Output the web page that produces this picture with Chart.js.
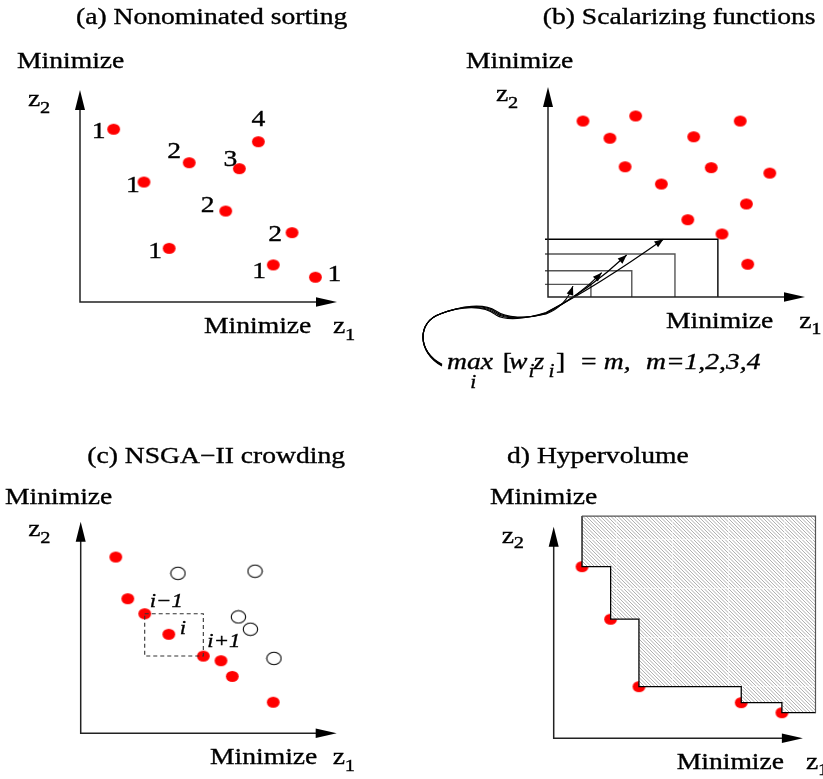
<!DOCTYPE html>
<html>
<head>
<meta charset="utf-8">
<title>Multi-objective ranking schemes</title>
<script src="https://cdn.jsdelivr.net/npm/chart.js@4.4.1/dist/chart.umd.min.js"></script>
<style>
  html, body { margin: 0; padding: 0; background: #fff; overflow: hidden; }
  #wrap { position: relative; width: 823px; height: 779px; }
  #wrap canvas { position: absolute; left: 0; top: 0; }
</style>
</head>
<body>
<div id="wrap">
  <canvas id="pa" width="823" height="779"></canvas>
  <canvas id="pb" width="823" height="779"></canvas>
  <canvas id="pc" width="823" height="779"></canvas>
  <canvas id="pd" width="823" height="779"></canvas>
</div>
<script>
// ---- data (axis units 0..10, origin at the arrow corner) ----
// (a) nondominated sorting
const aZ1 = [1.31, 4.25, 6.20, 6.94, 2.49, 5.67, 3.47, 8.25, 7.52, 9.16];
const aZ2 = [8.15, 6.57, 6.29, 7.56, 5.66, 4.29, 2.53, 3.27, 1.75, 1.17];
const aRank = [1, 2, 3, 4, 1, 2, 1, 2, 1, 1];

// (b) scalarizing functions
const bZ1 = [1.36, 3.41, 7.48, 2.41, 5.67, 3.00, 6.35, 8.63, 4.41, 7.72, 5.44, 6.77, 7.77];
const bZ2 = [8.38, 8.62, 8.38, 7.56, 7.63, 6.20, 6.16, 5.90, 5.38, 4.43, 3.68, 3.00, 1.56];
const bLevel = [1, 2, 3, 4];
const bLevelZ1 = [1.67, 3.26, 4.94, 6.61];
const bLevelZ2 = [0.60, 1.25, 2.05, 2.75];
const bArrowZ1 = [0.97, 2.09, 3.06, 4.49];
const bArrowZ2 = [0.52, 1.16, 2.00, 2.75];

// (c) NSGA-II crowding
const cFrontZ1 = [1.37, 1.84, 2.50, 3.44, 4.79, 5.48, 5.92, 7.52];
const cFrontZ2 = [8.33, 6.36, 5.65, 4.68, 3.65, 3.43, 2.69, 1.47];
const cOtherZ1 = [3.80, 6.81, 6.16, 6.63, 7.55];
const cOtherZ2 = [7.56, 7.66, 5.50, 4.92, 3.54];
const cCrowded = 3; // index of point i in the front

// (d) hypervolume
const dZ1 = [1.08, 2.17, 3.25, 7.15, 8.70];
const dZ2 = [7.71, 5.35, 2.32, 1.60, 1.15];
const dRef = [10, 10];

const titles = ['(a) Nonominated sorting', '(b) Scalarizing functions', '(c) NSGA\u2212II crowding', 'd) Hypervolume'];

// ---- drawing helpers ----
const W = 823, H = 779;
const SX = 1.2; // the original figure is stretched sideways
const FONT = '"Liberation Serif", "Times New Roman", serif';

function txt(ctx, s, x, y, o = {}) {
  ctx.save();
  ctx.translate(x, y);
  ctx.scale(SX, 1);
  ctx.font = (o.italic ? 'italic ' : '') + (o.size || 23) + 'px ' + FONT;
  ctx.fillStyle = '#000';
  ctx.strokeStyle = '#000';
  ctx.lineWidth = 0.35;
  ctx.textAlign = o.align || 'left';
  ctx.textBaseline = o.baseline || 'alphabetic';
  ctx.fillText(s, 0, 0);
  ctx.strokeText(s, 0, 0);
  ctx.restore();
}

function zLabel(ctx, x, y, sub, dy) {
  txt(ctx, 'z', x, y);
  txt(ctx, sub, x + 12, y + dy, { size: 17 });
}

function arrowHead(ctx, tx, ty, fx, fy, len, half) {
  const a = Math.atan2(ty - fy, tx - fx);
  ctx.save();
  ctx.translate(tx, ty);
  ctx.rotate(a);
  ctx.beginPath();
  ctx.moveTo(0, 0);
  ctx.lineTo(-len, -half);
  ctx.lineTo(-len, half);
  ctx.closePath();
  ctx.fillStyle = '#000';
  ctx.fill();
  ctx.restore();
}

function dotImage(rx, ry, fill, stroke) {
  const c = document.createElement('canvas');
  c.width = Math.ceil(rx * 2 + 2);
  c.height = Math.ceil(ry * 2 + 2);
  const g = c.getContext('2d');
  g.beginPath();
  g.ellipse(c.width / 2, c.height / 2, rx, ry, 0, 0, Math.PI * 2);
  g.fillStyle = fill;
  g.fill();
  if (stroke) { g.strokeStyle = stroke; g.lineWidth = 1.1; g.stroke(); }
  return c;
}
const redDot = dotImage(6.4, 5.5, '#ff0000');
const openDot = dotImage(7.2, 6.2, '#ffffff', '#000000');

function hatch(ctx) {
  const c = document.createElement('canvas');
  c.width = 56; c.height = 49;
  const g = c.getContext('2d');
  g.fillStyle = '#fff';
  g.fillRect(0, 0, 56, 49);
  g.strokeStyle = '#9a9a9a';
  g.lineWidth = 0.8;
  for (let k = -56; k < 60; k += 3.5) {
    g.beginPath(); g.moveTo(k, 0); g.lineTo(k + 49, 49); g.stroke();
  }
  g.strokeStyle = 'rgba(255,255,255,0.6)';
  g.lineWidth = 1;
  g.beginPath(); g.moveTo(0.5, 0); g.lineTo(0.5, 49); g.moveTo(0, 0.5); g.lineTo(56, 0.5); g.stroke();
  return ctx.createPattern(c, 'repeat');
}

function pts(xs, ys) { return xs.map((x, i) => ({ x, y: ys[i] })); }

// ---- panel layout ----
const panels = [
  { id: 'pa', area: [80, 90, 337, 302], tip: 10,
    title: [76, 23.5], minY: [17, 68.3], z2: [28, 106, 6.7], minX: [204, 333.3], z1: [333, 333.3, 6.7] },
  { id: 'pb', area: [548, 87, 805, 297], tip: 10,
    title: [542.7, 23.5], minY: [466, 68.3], z2: [496, 101, 7], minX: [666, 328.3], z1: [799.3, 328.3, 6] },
  { id: 'pc', area: [80.7, 521.7, 336.7, 733.3], tip: 10,
    title: [87.3, 463.3], minY: [5, 504], z2: [28.3, 536, 7.3], minX: [210, 764.3], z1: [332.7, 764.3, 6.4] },
  { id: 'pd', area: [553.7, 515.7, 822.7, 738.3], tip: 9.5,
    title: [507, 463.3], minY: [490, 504], z2: [501.7, 543.3, 5], minX: [676.7, 769.3], z1: [806, 769.3, 6] }
];

// rank label offsets in (a), in pixels from the dot
const aLabelDx = [-15, -15, -9, 0, -11, -18, -14, -17, -14, 19];
const aLabelDy = [3, -11, -9, -22, 4, -5, 4, 2, 7, -2];

function frame(p, i) {
  return {
    id: 'frame' + i,
    afterDraw(chart) {
      const ctx = chart.ctx, xs = chart.scales.x, ys = chart.scales.y;
      const ox = xs.getPixelForValue(0), oy = ys.getPixelForValue(0);
      const tx = xs.getPixelForValue(p.tip), ty = ys.getPixelForValue(p.tip);
      ctx.save();
      ctx.strokeStyle = '#222';
      ctx.lineWidth = 1.5;
      ctx.beginPath();
      ctx.moveTo(ox, ty + 10); ctx.lineTo(ox, oy); ctx.lineTo(tx - 10, oy);
      ctx.stroke();
      arrowHead(ctx, ox, ty, ox, oy, 20, 5);
      arrowHead(ctx, tx, oy, ox, oy, 21, 4.7);
      ctx.restore();
      txt(ctx, titles[i], p.title[0], p.title[1]);
      txt(ctx, 'Minimize', p.minY[0], p.minY[1]);
      txt(ctx, 'Minimize', p.minX[0], p.minX[1]);
      zLabel(ctx, p.z2[0], p.z2[1], '2', p.z2[2]);
      zLabel(ctx, p.z1[0], p.z1[1], '1', p.z1[2]);
    }
  };
}

const extras = [
  // (a) rank numbers
  {
    id: 'ranks',
    afterDatasetsDraw(chart) {
      const ctx = chart.ctx, xs = chart.scales.x, ys = chart.scales.y;
      aRank.forEach((r, k) => {
        txt(ctx, String(r), xs.getPixelForValue(aZ1[k]) + aLabelDx[k], ys.getPixelForValue(aZ2[k]) + aLabelDy[k],
          { align: 'center', baseline: 'middle' });
      });
    }
  },
  // (b) level sets, arrows and formula
  {
    id: 'levels',
    afterDatasetsDraw(chart) {
      const ctx = chart.ctx, xs = chart.scales.x, ys = chart.scales.y;
      const ox = xs.getPixelForValue(0), oy = ys.getPixelForValue(0);
      ctx.save();
      bLevel.forEach((m, k) => {
        const cx = xs.getPixelForValue(bLevelZ1[k]), cy = ys.getPixelForValue(bLevelZ2[k]);
        ctx.strokeStyle = m === 4 ? '#000' : '#555';
        ctx.lineWidth = 1.4;
        ctx.beginPath();
        ctx.moveTo(ox - 3, cy); ctx.lineTo(cx, cy); ctx.lineTo(cx, oy);
        ctx.stroke();
      });
      const ctrl = [[566, 306], [578, 297], [588, 291], [596, 287]];
      ctx.strokeStyle = '#000';
      ctx.lineWidth = 1.2;
      bLevel.forEach((m, k) => {
        const ax = xs.getPixelForValue(bArrowZ1[k]), ay = ys.getPixelForValue(bArrowZ2[k]);
        ctx.beginPath();
        ctx.moveTo(442, 366 - k * 0.6);
        ctx.bezierCurveTo(417, 352, 417, 322, 440, 314);
        ctx.bezierCurveTo(462, 305.5, 484, 303 + k * 0.8, 496, 311 + k * 1.3);
        ctx.bezierCurveTo(506, 318 + k, 526, 319, 546, 314 - k * 0.5);
        ctx.quadraticCurveTo(ctrl[k][0], ctrl[k][1], ax, ay);
        ctx.stroke();
        arrowHead(ctx, ax, ay, ctrl[k][0], ctrl[k][1], 9, 3.5);
      });
      ctx.restore();
      const y = 369.3, ys2 = 376.7;
      txt(ctx, 'max', 447, y, { italic: true });
      txt(ctx, 'i', 470.3, 388.3, { italic: true, size: 18 });
      txt(ctx, '[', 502.7, y);
      txt(ctx, 'w', 509, y, { italic: true });
      txt(ctx, 'i', 528.5, ys2, { italic: true, size: 18 });
      txt(ctx, 'z', 533.5, y, { italic: true });
      txt(ctx, 'i', 548.5, ys2, { italic: true, size: 18 });
      txt(ctx, ']', 556, y);
      txt(ctx, '=', 581, y);
      txt(ctx, 'm,', 603.7, y, { italic: true });
      txt(ctx, 'm=1,2,3,4', 646, y, { italic: true });
    }
  },
  // (c) crowding box
  {
    id: 'crowd',
    afterDatasetsDraw(chart) {
      const ctx = chart.ctx, xs = chart.scales.x, ys = chart.scales.y;
      const px = (k) => xs.getPixelForValue(cFrontZ1[k]);
      const py = (k) => ys.getPixelForValue(cFrontZ2[k]);
      const a = cCrowded - 1, b = cCrowded + 1;
      ctx.save();
      ctx.strokeStyle = '#333';
      ctx.lineWidth = 1.1;
      ctx.setLineDash([4, 3]);
      ctx.strokeRect(px(a), py(a), px(b) - px(a), py(b) - py(a));
      ctx.restore();
      txt(ctx, 'i\u22121', px(a) + 5, py(a) - 7, { italic: true, size: 19 });
      txt(ctx, 'i', px(cCrowded) + 11, py(cCrowded), { italic: true, size: 19 });
      txt(ctx, 'i+1', px(b) + 4, py(b) - 9, { italic: true, size: 19 });
    }
  },
  // (d) outline of the dominated region
  {
    id: 'hvEdge',
    afterDatasetsDraw(chart) {
      const ctx = chart.ctx, xs = chart.scales.x, ys = chart.scales.y;
      const l = xs.getPixelForValue(dZ1[0]), r = xs.getPixelForValue(dRef[0]);
      const t = ys.getPixelForValue(dRef[1]), b = ys.getPixelForValue(dZ2[dZ2.length - 1]);
      ctx.save();
      ctx.strokeStyle = '#555';
      ctx.lineWidth = 1.2;
      ctx.beginPath();
      ctx.moveTo(l, t + 0.5); ctx.lineTo(r - 0.5, t + 0.5); ctx.lineTo(r - 0.5, b);
      ctx.stroke();
      ctx.restore();
    }
  }
];

function datasetsFor(i, ctx) {
  if (i === 0) return [{ data: pts(aZ1, aZ2), pointStyle: redDot, pointRadius: 6, clip: false }];
  if (i === 1) return [{ data: pts(bZ1, bZ2), pointStyle: redDot, pointRadius: 6, clip: false }];
  if (i === 2) return [
    { data: pts(cFrontZ1, cFrontZ2), pointStyle: redDot, pointRadius: 6, clip: false },
    { data: pts(cOtherZ1, cOtherZ2), pointStyle: openDot, pointRadius: 7, clip: false }
  ];
  const stair = [{ x: dZ1[0], y: dRef[1] }].concat(pts(dZ1, dZ2), [{ x: dRef[0], y: dZ2[dZ2.length - 1] }]);
  return [
    { type: 'line', data: stair, stepped: true, fill: 'end', backgroundColor: hatch(ctx),
      borderColor: '#000', borderWidth: 1.3, pointRadius: 0, order: 0 },
    { data: pts(dZ1, dZ2), pointStyle: redDot, pointRadius: 6, clip: false, order: 1 }
  ];
}

panels.forEach((p, i) => {
  const canvas = document.getElementById(p.id);
  const ctx = canvas.getContext('2d');
  new Chart(ctx, {
    type: 'scatter',
    data: { datasets: datasetsFor(i, ctx) },
    options: {
      responsive: false,
      animation: false,
      events: [],
      layout: { padding: { left: p.area[0], top: p.area[1], right: W - p.area[2], bottom: H - p.area[3] } },
      scales: {
        x: { type: 'linear', min: 0, max: 10, display: false },
        y: { type: 'linear', min: 0, max: 10, display: false }
      },
      plugins: { legend: { display: false }, tooltip: { enabled: false }, filler: { drawTime: 'beforeDatasetDraw' } }
    },
    plugins: [frame(p, i), extras[i]]
  });
});
</script>
</body>
</html>
